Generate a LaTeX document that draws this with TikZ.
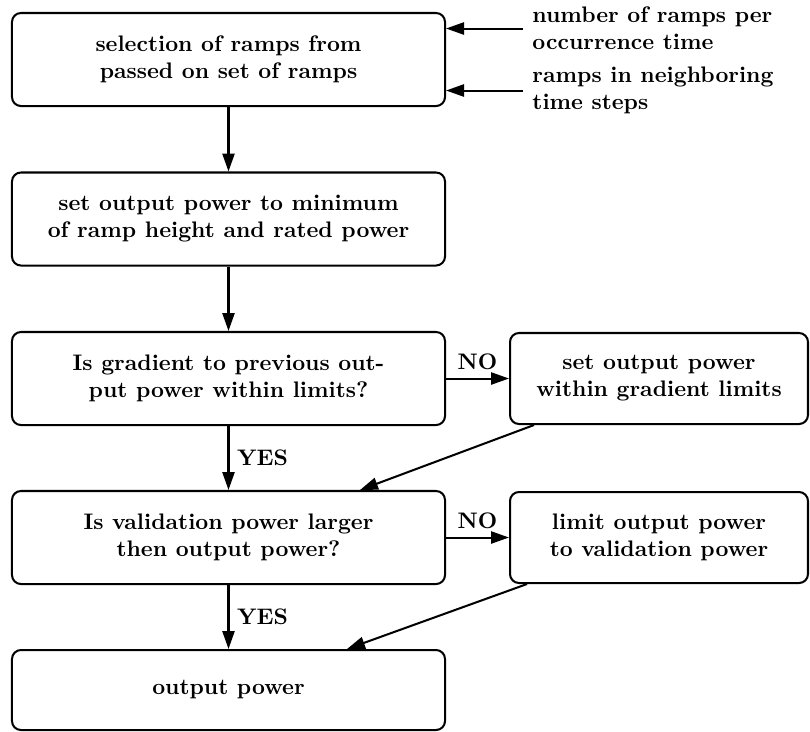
\documentclass[tikz,border=0pt]{standalone}
\usepackage{tikz}
\usetikzlibrary{calc, arrows.meta}
\tikzset{%
  box/.style={draw, rounded corners=4pt, line width=0.9pt, align=center,
              font=\bfseries, minimum width=192.7pt, minimum height=41.4pt},
  sidebox/.style={box, minimum width=132.6pt, minimum height=40.5pt},
  note/.style={font=\bfseries, align=left, anchor=west, inner sep=0pt},
  flow/.style={-{Triangle[length=8pt,width=5.4pt]}, line width=0.9pt},
}

\begin{document}
\begin{tikzpicture}[x=0.445pt, y=-0.445pt]

    % frame of the picture
    \useasboundingbox (0,0) rectangle (810,731);

    % main column
    \node[box] (select) at (228.5,59.5) {selection of ramps from\\passed on set of ramps};
    \node[box] (setout) at (228.5,219) {set output power to minimum\\of ramp height and rated power};
    \node[box] (grad) at (228.5,378.5) {Is gradient to previous out-\\put power within limits?};
    \node[box] (valid) at (228.5,537.5) {Is validation power larger\\then output power?};
    \node[box, minimum height=35.6pt] (out) at (228.5,690) {output power};

    % corrections on the right
    \node[sidebox] (gradlim) at (659,378.5) {set output power\\within gradient limits};
    \node[sidebox] (validlim) at (659,537.5) {limit output power\\to validation power};

    % inputs of the selection
    \node[note] (nramps) at (532,28.5) {number of ramps per\\occurrence time};
    \node[note] (nbramps) at (532,90.5) {ramps in neighboring\\time steps};
    \draw[flow] ([xshift=-4pt]nramps.west) -- (nramps.west -| select.east);
    \draw[flow] ([xshift=-4pt]nbramps.west) -- (nbramps.west -| select.east);

    %vertical flow
    \draw[flow] (select) -- (setout);
    \draw[flow] (setout) -- (grad);
    \draw[flow] (grad) -- node[right, font=\bfseries] {YES} (valid);
    \draw[flow] (valid) -- node[right, font=\bfseries] {YES} (out);

    %branches
    \draw[flow] (grad) -- node[above, font=\bfseries] {NO} (gradlim);
    \draw[flow] (valid) -- node[above, font=\bfseries] {NO} (validlim);
    \draw[flow] ($(gradlim.south west)+(25,0)$) -- ($(valid.north)+(131.5,0)$);
    \draw[flow] ($(validlim.south west)+(18,0)$) -- ($(out.north)+(118.5,0)$);

\end{tikzpicture}
\end{document}
